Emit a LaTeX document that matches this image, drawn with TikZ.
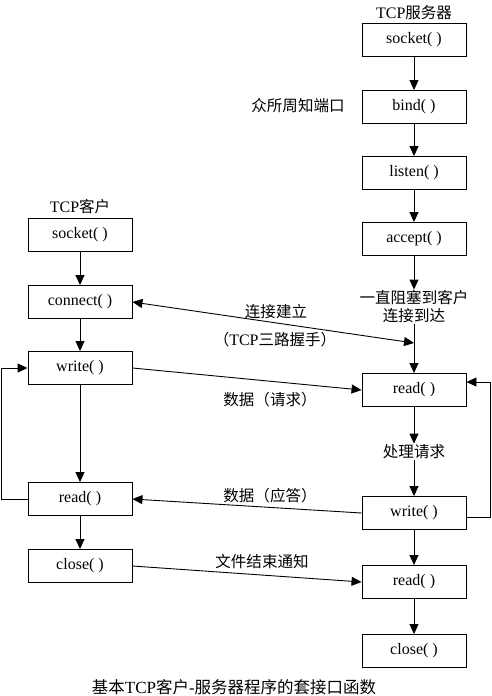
\documentclass[tikz,border=0pt]{standalone}
\usepackage{fontspec}
\setmainfont{Liberation Serif}
\newfontfamily\cjk[Scale=0.97]{Noto Sans CJK SC}
\usetikzlibrary{arrows.meta}
\begin{document}
\begin{tikzpicture}[x=1pt,y=-1pt,
  font=\fontsize{16pt}{18pt}\selectfont,
  fbox/.style={draw, line width=0.9pt, minimum width=104pt, minimum height=33pt, inner sep=0pt},
  lbl/.style={inner sep=1pt},
  arr/.style={line width=0.9pt, -{Triangle[length=10pt,width=9pt]}},
  darr/.style={line width=0.9pt, {Triangle[length=10pt,width=9pt]}-{Triangle[length=10pt,width=9pt]}},
  ln/.style={line width=0.9pt}]
\useasboundingbox (0,0) rectangle (492,696);
% client column
\node[lbl] (ctitle) at (80,207) {TCP{\cjk 客户}};
\node[fbox] (cs) at (80,235) {socket( )};
\node[fbox] (cc) at (80,302) {connect( )};
\node[fbox] (cw) at (80,368) {write( )};
\node[fbox] (cr) at (80,499) {read( )};
\node[fbox] (ccl) at (80,566) {close( )};
% server column
\node[lbl] (stitle) at (414,13) {TCP{\cjk 服务器}};
\node[fbox] (ss) at (414,40) {socket( )};
\node[fbox] (sb) at (414,107) {bind( )};
\node[fbox] (sl) at (414,173) {listen( )};
\node[fbox] (sa) at (414,239) {accept( )};
\node[lbl, align=center] (sblk) at (414,307) {\cjk 一直阻塞到客户\\\cjk 连接到达};
\node[fbox] (sr) at (414,390) {read( )};
\node[lbl] (sproc) at (414,452) {\cjk 处理请求};
\node[fbox] (sw) at (414,513) {write( )};
\node[fbox] (sr2) at (414,582) {read( )};
\node[fbox] (scl) at (414,651) {close( )};
\coordinate (hs) at (414,343);
% labels
\node[lbl] (wk) at (298,106) {\cjk 众所周知端口};
\node[lbl] (l1) at (276,312) {\cjk 连接建立};
\node[lbl] (l2) at (275,340) {{\cjk （}TCP{\cjk 三路握手）}};
\node[lbl] (l3) at (270,400) {\cjk 数据（请求）};
\node[lbl] (l4) at (270,496) {\cjk 数据（应答）};
\node[lbl] (l5) at (262,562) {\cjk 文件结束通知};
\node[lbl, font=\fontsize{17pt}{19pt}\selectfont] (cap) at (234,687) {{\cjk 基本}TCP{\cjk 客户}-{\cjk 服务器程序的套接口函数}};
% client arrows
\draw[arr] (cs) -- (cc);
\draw[arr] (cc) -- (cw);
\draw[arr] (cw) -- (cr);
\draw[arr] (cr) -- (ccl);
\draw[arr] (cr.west) -- ++(-26,0) |- (cw.west);
% server arrows
\draw[arr] (ss) -- (sb);
\draw[arr] (sb) -- (sl);
\draw[arr] (sl) -- (sa);
\draw[arr] (sa) -- (sblk);
\draw[arr] (sblk) -- (sr);
\draw[arr] (sr) -- (sproc);
\draw[arr] (sproc) -- (sw);
\draw[arr] (sw) -- (sr2);
\draw[arr] (sr2) -- (scl);
\draw[arr] ([yshift=-4pt]sw.east) -- ++(24,0) |- ([yshift=8pt]sr.east);
% cross arrows
\draw[darr] (cc.east) -- (hs);
\draw[arr] (cw.east) -- (sr.west);
\draw[arr] (sw.west) -- (cr.east);
\draw[arr] (ccl.east) -- (sr2.west);
\end{tikzpicture}
\end{document}
